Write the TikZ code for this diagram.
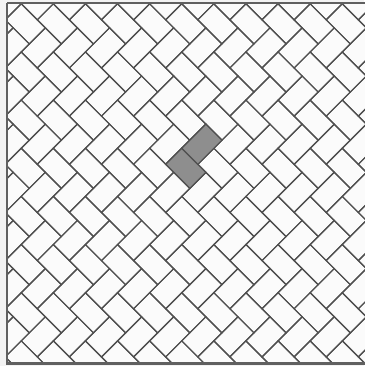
\documentclass[tikz,border=0pt]{standalone}
\definecolor{bgc}{HTML}{F3F3F3}
\definecolor{tilec}{HTML}{FBFBFB}
\definecolor{linec}{HTML}{505050}
\definecolor{framec}{HTML}{606060}
\definecolor{grayc}{HTML}{8E8E8E}
\tikzset{
  tile/.style={draw=linec, line width=1.2pt, line join=miter},
  graytile/.style={tile, fill=grayc},
  framebox/.style={draw=framec, line width=2.4pt}
}
\begin{document}
\begin{tikzpicture}[x=1pt,y=-1pt]
\useasboundingbox (0,0) rectangle (364,366);
\fill[bgc] (0,0) rectangle (364,366);
\fill[tilec] (7,3) rectangle (370,363.5);
\begin{scope}
  \clip (7,3) rectangle (370,363.5);
  \begin{scope}[shift={(165.7,164.3)}, x=8.026pt, y=-8.026pt]
    \foreach \k in {-9,...,8}{
      \foreach \m in {-6,...,5}{
        \draw[tile] ({4*\k},{-6*\m}) -- ++(3,3) -- ++(2,-2) -- ++(-3,-3) -- cycle;
        \draw[tile] ({4*\k+2},{-6*\m-2}) -- ++(2,2) -- ++(3,-3) -- ++(-2,-2) -- cycle;
      }
    }
    \draw[graytile] (0,0) -- ++(3,3) -- ++(2,-2) -- ++(-3,-3) -- cycle;
    \draw[graytile] (2,-2) -- ++(2,2) -- ++(3,-3) -- ++(-2,-2) -- cycle;
  \end{scope}
\end{scope}
\draw[framebox] (7,3) -- (370,3) (7,3) -- (7,363.5) -- (370,363.5);
\end{tikzpicture}
\end{document}
